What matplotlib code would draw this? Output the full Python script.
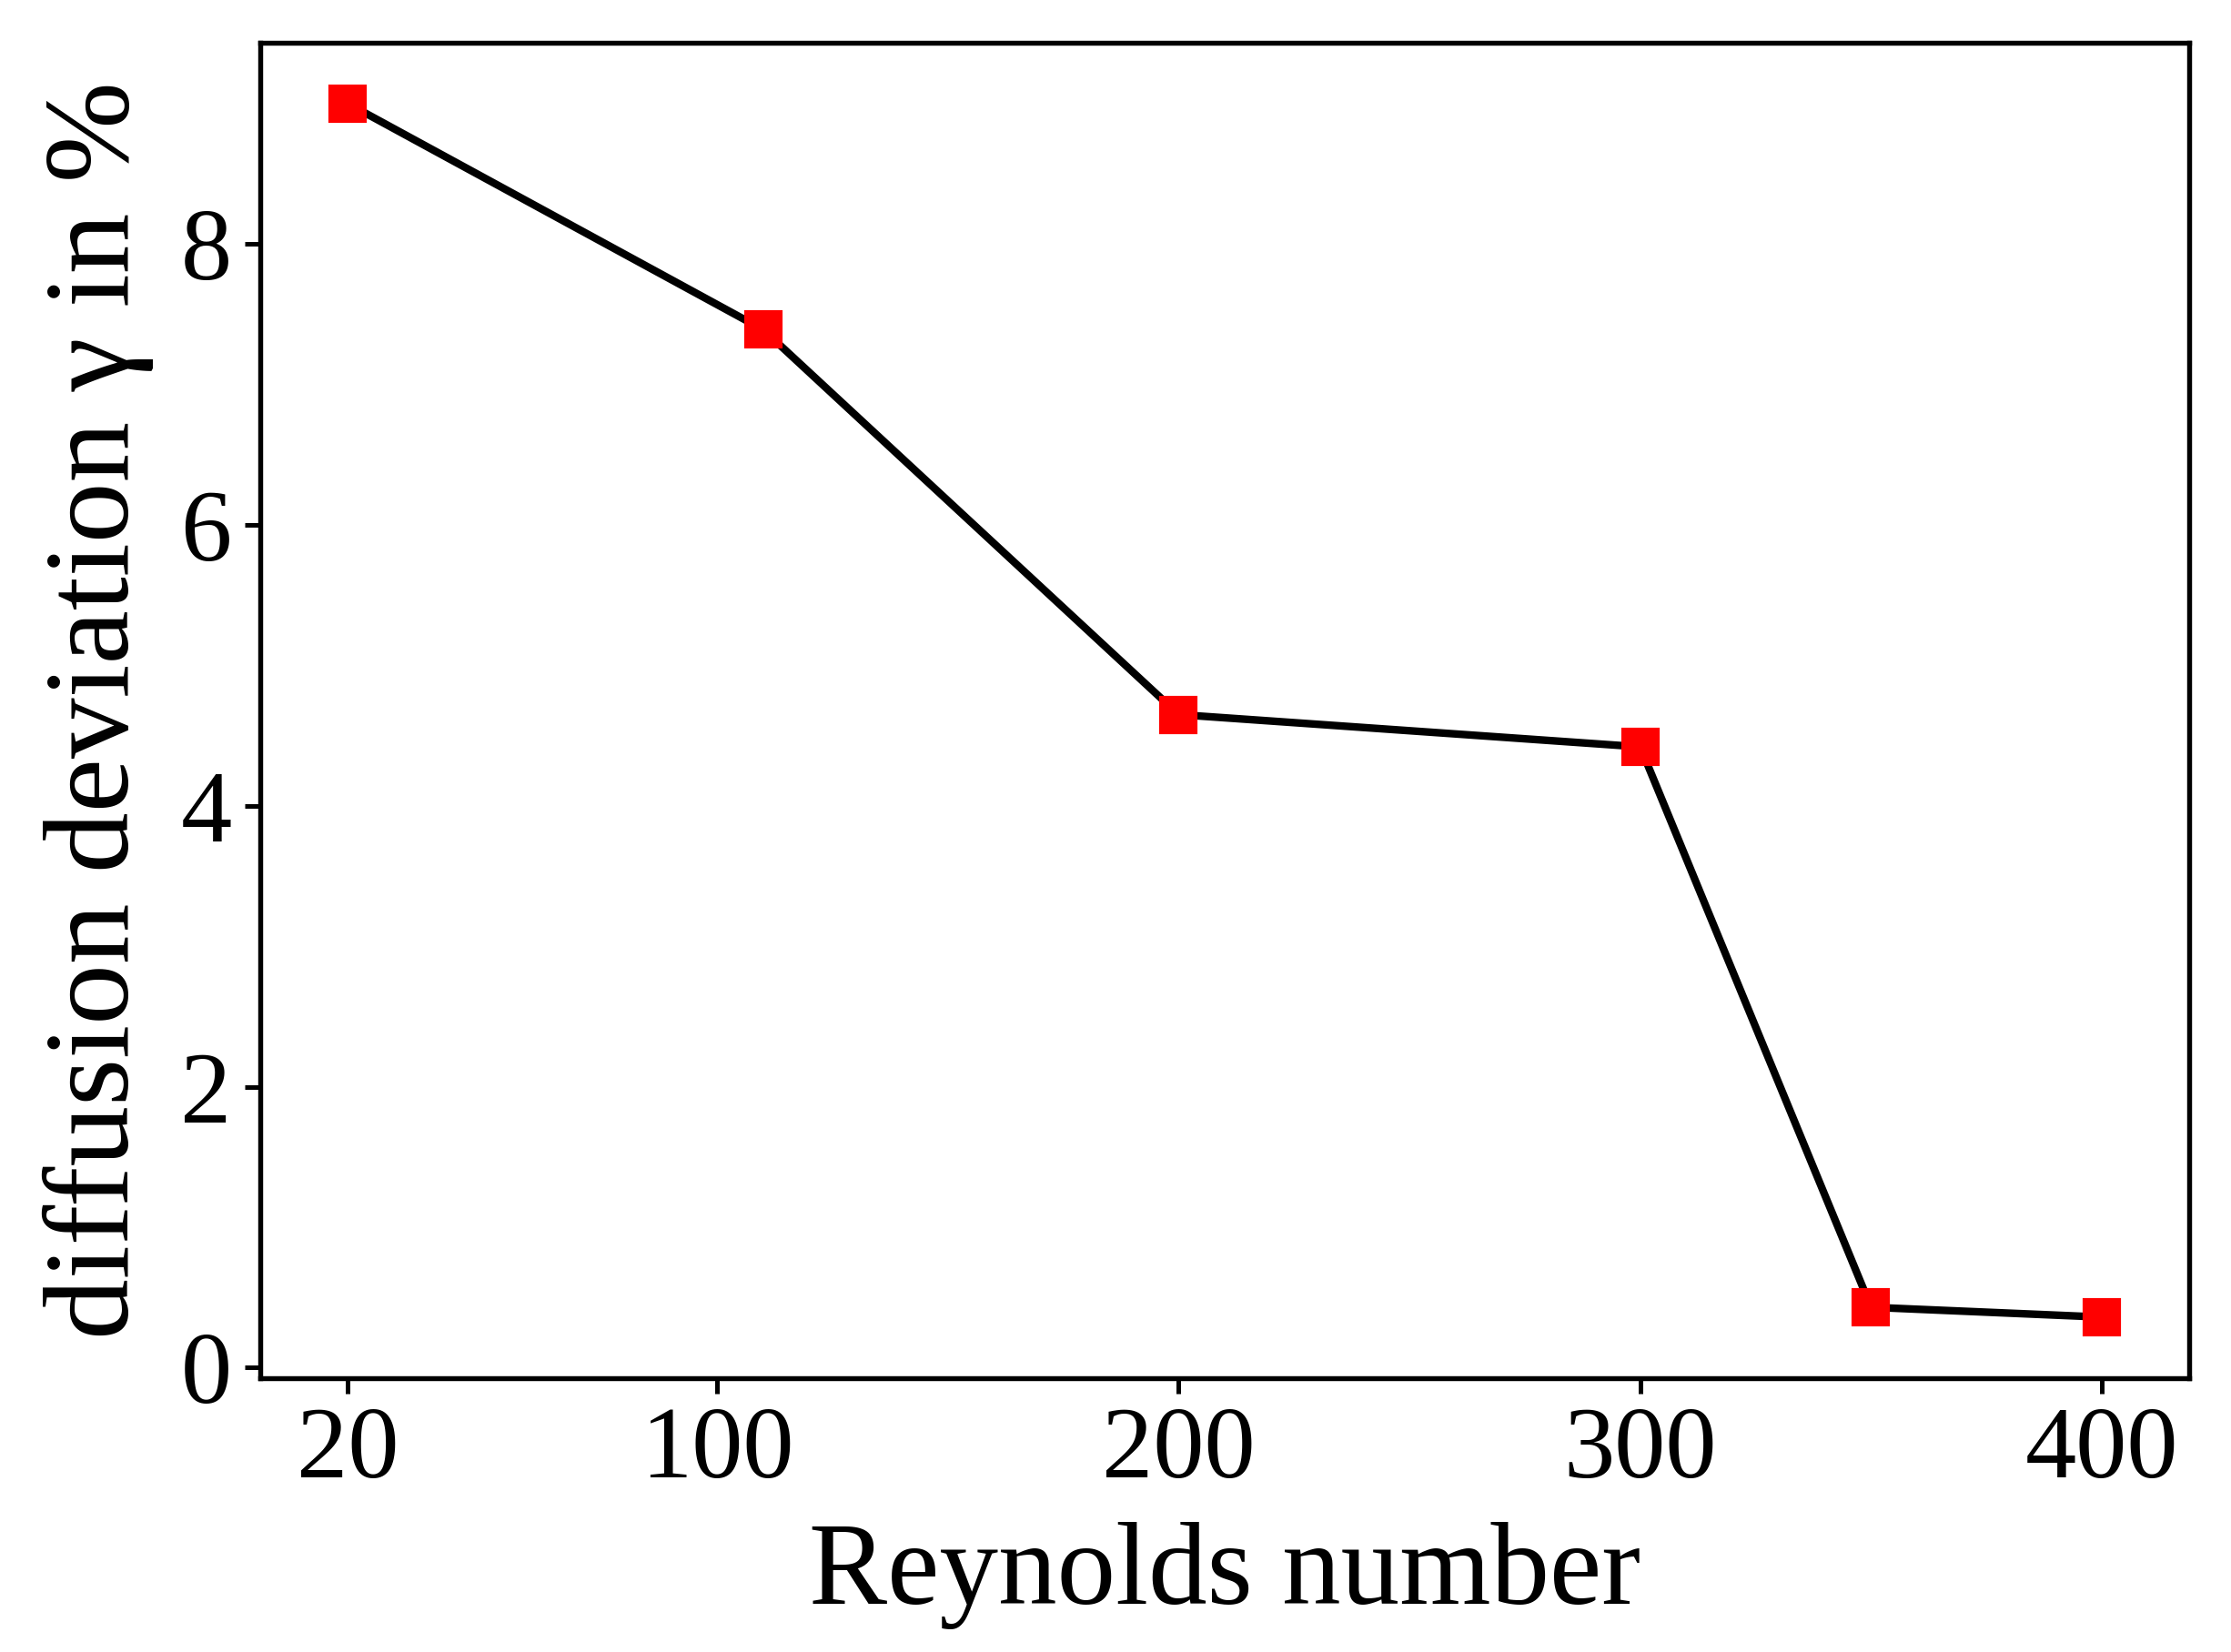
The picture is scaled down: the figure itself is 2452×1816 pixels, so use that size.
import matplotlib
matplotlib.use("Agg")
import matplotlib.pyplot as plt

reynolds = [20, 110, 200, 300, 350, 400]
deviation = [9.0, 7.39, 4.65, 4.42, 0.43, 0.36]
xticks = [20, 100, 200, 300, 400]
yticks = [0, 2, 4, 6, 8]

plt.rcParams['font.family'] = ['Liberation Serif', 'DejaVu Serif']

fig = plt.figure(figsize=(2453/300, 1816/300), dpi=300)
ax = fig.add_axes([0.1166, 0.166, 0.9810 - 0.1166, 0.974 - 0.166])
ax.plot(reynolds, deviation, color='black', lw=2.0, marker='s', markersize=9,
        markerfacecolor='red', markeredgecolor='red', zorder=3)
ax.set_xticks(xticks)
ax.set_yticks(yticks)
ax.tick_params(labelsize=27, length=4, width=1.2)
for s in ax.spines.values():
    s.set_linewidth(1.3)
ax.set_xlabel('Reynolds number', fontsize=31, labelpad=6)
ax.set_ylabel('diffusion deviation γ in %', fontsize=32, labelpad=7)
fig.savefig('out.png', dpi=300)
